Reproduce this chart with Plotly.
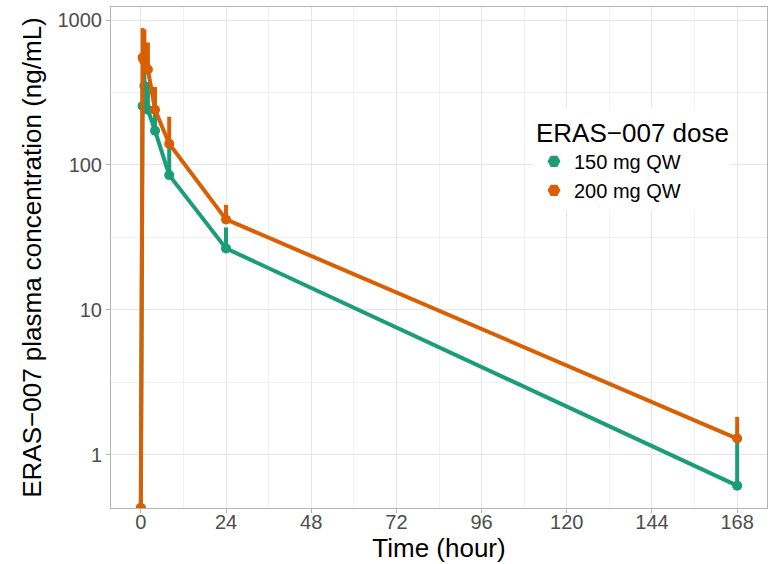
import plotly.graph_objects as go
import numpy as np

# ---- data ----
time_h = [0, 0.5, 1, 2, 4, 8, 24, 168]

dose_labels = ["150 mg QW", "200 mg QW"]
colors = ["#1B9E77", "#D95F02"]

conc_150 = [0, 255, 350, 240, 172, 85, 26.5, 0.61]
upper_150 = [0, 330, 480, 370, 240, 133, 37, 1.3]

conc_200 = [0, 550, 520, 455, 240, 140, 42, 1.29]
upper_200 = [0, 880, 860, 700, 345, 215, 53, 1.82]

x_ticks = [0, 24, 48, 72, 96, 120, 144, 168]
x_minor = [12, 36, 60, 84, 108, 132, 156]
y_ticks = [1, 10, 100, 1000]
y_tick_text = ["1", "10", "100", "1000"]
y_minor = [10 ** (k + 0.5) for k in range(-1, 4)]

# axis range (log10 units) as in ggplot with 5% expansion
y_lo, y_hi = -0.369, 3.09
x_lo, x_hi = -8.4, 176.4
floor_val = 10 ** y_lo  # zero concentrations drawn at panel bottom (like -Inf)

fig = go.Figure()
series = [(conc_150, upper_150), (conc_200, upper_200)]
for (conc, upper), name, col in zip(series, dose_labels, colors):
    y_plot = [c if c > 0 else floor_val for c in conc]
    err_plus = [max(u - c, 0) if c > 0 else 0 for c, u in zip(conc, upper)]
    fig.add_trace(go.Scatter(
        x=time_h, y=y_plot, mode="lines+markers", name=name,
        line=dict(color=col, width=4),
        marker=dict(color=col, size=10),
        error_y=dict(type="data", symmetric=False, array=err_plus,
                     arrayminus=[0] * len(conc), color=col, thickness=4, width=0),
        showlegend=False,
    ))

# legend keys
for name, col in zip(dose_labels, colors):
    fig.add_trace(go.Scatter(
        x=[None], y=[None], mode="markers", name=name,
        marker=dict(color=col, size=13, symbol="hexagon2"),
        showlegend=True,
    ))

grid_major = "#E6E6E6"
grid_minor = "#F0F0F0"
border = "#B3B3B3"
tick_font = dict(family="Liberation Sans, Arial", size=20, color="#4D4D4D")
title_font = dict(family="Liberation Sans, Arial", size=26, color="#000000")

fig.update_xaxes(
    range=[x_lo, x_hi], tickmode="array", tickvals=x_ticks,
    ticks="outside", ticklen=4, tickcolor=border, tickwidth=1,
    ticklabelstandoff=-8,
    showgrid=True, gridcolor=grid_major, gridwidth=1,
    minor=dict(tickmode="array", tickvals=x_minor, showgrid=True,
               gridcolor=grid_minor, gridwidth=1, ticklen=0),
    showline=True, linecolor=border, linewidth=1, mirror=True,
    zeroline=False, tickfont=tick_font,
    title=dict(text="Time (hour)", font=title_font, standoff=2),
    automargin=False,
)
fig.update_yaxes(
    type="log", range=[y_lo, y_hi], tickmode="array",
    tickvals=y_ticks, ticktext=y_tick_text,
    ticks="outside", ticklen=4, tickcolor=border, tickwidth=1,
    showgrid=True, gridcolor=grid_major, gridwidth=1,
    minor=dict(tickmode="array", tickvals=y_minor, showgrid=True,
               gridcolor=grid_minor, gridwidth=1, ticklen=0),
    showline=True, linecolor=border, linewidth=1, mirror=True,
    zeroline=False, tickfont=tick_font,
    title=dict(text="ERAS\u2212007 plasma concentration (ng/mL)", font=title_font, standoff=8),
    automargin=False,
)

fig.update_layout(
    width=771, height=564,
    margin=dict(l=111, r=4, t=7, b=56),
    paper_bgcolor="white", plot_bgcolor="white",
    font=dict(family="Liberation Sans, Arial"),
    legend=dict(
        title=dict(text="ERAS\u2212007 dose", font=dict(family="Liberation Sans, Arial", size=26, color="#000000")),
        font=dict(family="Liberation Sans, Arial", size=20, color="#000000"),
        x=(534 - 111) / 656, y=1 - (108 - 7) / 501, xanchor="left", yanchor="top",
        bgcolor="white", borderwidth=0, itemwidth=30,
    ),
)

fig.write_html("out.html")
